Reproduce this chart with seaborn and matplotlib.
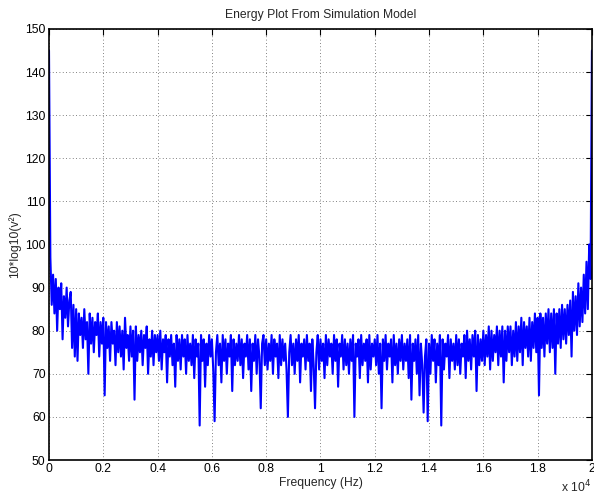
import matplotlib
matplotlib.use("Agg")
import matplotlib.pyplot as plt
import matplotlib.ticker as mticker
import numpy as np
import pandas as pd
import seaborn as sns

# Frequency axis, one sample every 50 Hz from 0 to 20 kHz
FREQ_STEP = 50
FREQ_MAX = 20000

# Energy in dB (alternating top / bottom of the noise band)
energy_db = [
    145, 97, 86, 93, 84, 92, 80, 90, 85, 91, 78, 88, 83, 90, 81, 87, 89, 76, 86, 74,
    85, 73, 84, 79, 83, 76, 85, 78, 82, 70, 84, 77, 83, 75, 82, 79, 84, 74, 82, 77,
    83, 65, 82, 76, 81, 73, 82, 77, 80, 72, 82, 75, 81, 74, 80, 71, 83, 76, 79, 73,
    81, 74, 80, 64, 81, 73, 79, 75, 80, 72, 79, 76, 81, 70, 78, 74, 80, 72, 79, 75,
    79, 73, 80, 71, 78, 75, 79, 68, 78, 74, 79, 72, 77, 67, 79, 73, 78, 71, 79, 74,
    78, 70, 79, 73, 77, 72, 79, 69, 78, 74, 77, 58, 79, 73, 78, 67, 77, 72, 79, 74,
    78, 71, 59, 75, 79, 72, 77, 68, 79, 73, 78, 70, 77, 74, 79, 66, 78, 72, 77, 73,
    79, 72, 78, 69, 77, 74, 79, 71, 78, 66, 77, 73, 79, 70, 78, 74, 62, 77, 79, 72,
    78, 71, 77, 73, 79, 70, 78, 74, 77, 69, 79, 72, 78, 73, 77, 71, 60, 75, 79, 72,
    77, 70, 78, 73, 79, 68, 77, 74, 78, 71, 79, 73, 77, 66, 78, 72, 62, 75, 79, 71,
    78, 73, 77, 69, 79, 72, 78, 74, 77, 70, 79, 73, 78, 67, 77, 74, 79, 71, 78, 72,
    77, 70, 78, 73, 79, 60, 77, 74, 78, 69, 79, 72, 77, 73, 78, 68, 79, 71, 77, 74,
    78, 72, 79, 70, 77, 62, 78, 73, 79, 71, 77, 74, 78, 68, 79, 72, 77, 70, 78, 73,
    79, 71, 77, 73, 78, 69, 79, 64, 77, 73, 78, 70, 79, 65, 77, 72, 61, 74, 78, 59,
    77, 70, 79, 73, 78, 68, 77, 72, 79, 58, 78, 71, 77, 74, 79, 69, 78, 73, 77, 71,
    79, 72, 78, 70, 77, 74, 79, 69, 80, 73, 78, 71, 79, 74, 80, 66, 79, 72, 78, 73,
    80, 72, 79, 74, 81, 71, 80, 73, 79, 75, 81, 72, 80, 74, 81, 68, 80, 73, 81, 75,
    81, 72, 80, 74, 82, 73, 81, 75, 83, 72, 82, 76, 81, 74, 83, 73, 82, 76, 84, 75,
    83, 65, 84, 76, 83, 74, 84, 77, 85, 75, 84, 76, 85, 70, 84, 77, 85, 76, 86, 78,
    85, 77, 86, 79, 87, 74, 89, 80, 88, 79, 91, 81, 90, 82, 93, 84, 96, 85, 100, 92,
    145,
]

x_ticks = [0, 2000, 4000, 6000, 8000, 10000, 12000, 14000, 16000, 18000, 20000]
y_ticks = [50, 60, 70, 80, 90, 100, 110, 120, 130, 140, 150]

freq = np.arange(0, FREQ_MAX + FREQ_STEP, FREQ_STEP)
df = pd.DataFrame({"freq": freq, "energy": energy_db})

sns.set_style("white")
plt.rcParams["font.family"] = ["Liberation Sans", "DejaVu Sans"]
plt.rcParams["font.size"] = 8.7

fig = plt.figure(figsize=(5.94, 4.98), dpi=100)
ax = fig.add_axes([0.0825, 0.0763, 0.914, 0.8655])

sns.lineplot(data=df, x="freq", y="energy", color=(0, 0, 1), linewidth=1.5,
             ax=ax, estimator=None, sort=False)

ax.set_xlim(0, FREQ_MAX)
ax.set_ylim(50, 150)
ax.set_xticks(x_ticks)
ax.set_yticks(y_ticks)
ax.xaxis.set_major_formatter(mticker.FuncFormatter(lambda v, p: "{:g}".format(v / 1e4)))

ax.grid(True, color="0.35", linestyle=(0, (1, 3)), linewidth=0.6)
ax.tick_params(direction="in", length=4.5, width=0.8, top=True, right=True,
               labelsize=8.7, colors="black", pad=2.5)
for s in ax.spines.values():
    s.set_color("black")
    s.set_linewidth(1.2)

ax.set_title("Energy Plot From Simulation Model", fontsize=8.7, pad=8)
ax.set_xlabel("Frequency (Hz)", fontsize=8.7, labelpad=1)
ax.set_ylabel("10*log10(v\u00b2)", fontsize=8.7, labelpad=3)
fig.text(0.944, 0.006, "x 10$^4$", fontsize=8.7, ha="left", va="bottom")

fig.savefig("out.png", dpi=100)
